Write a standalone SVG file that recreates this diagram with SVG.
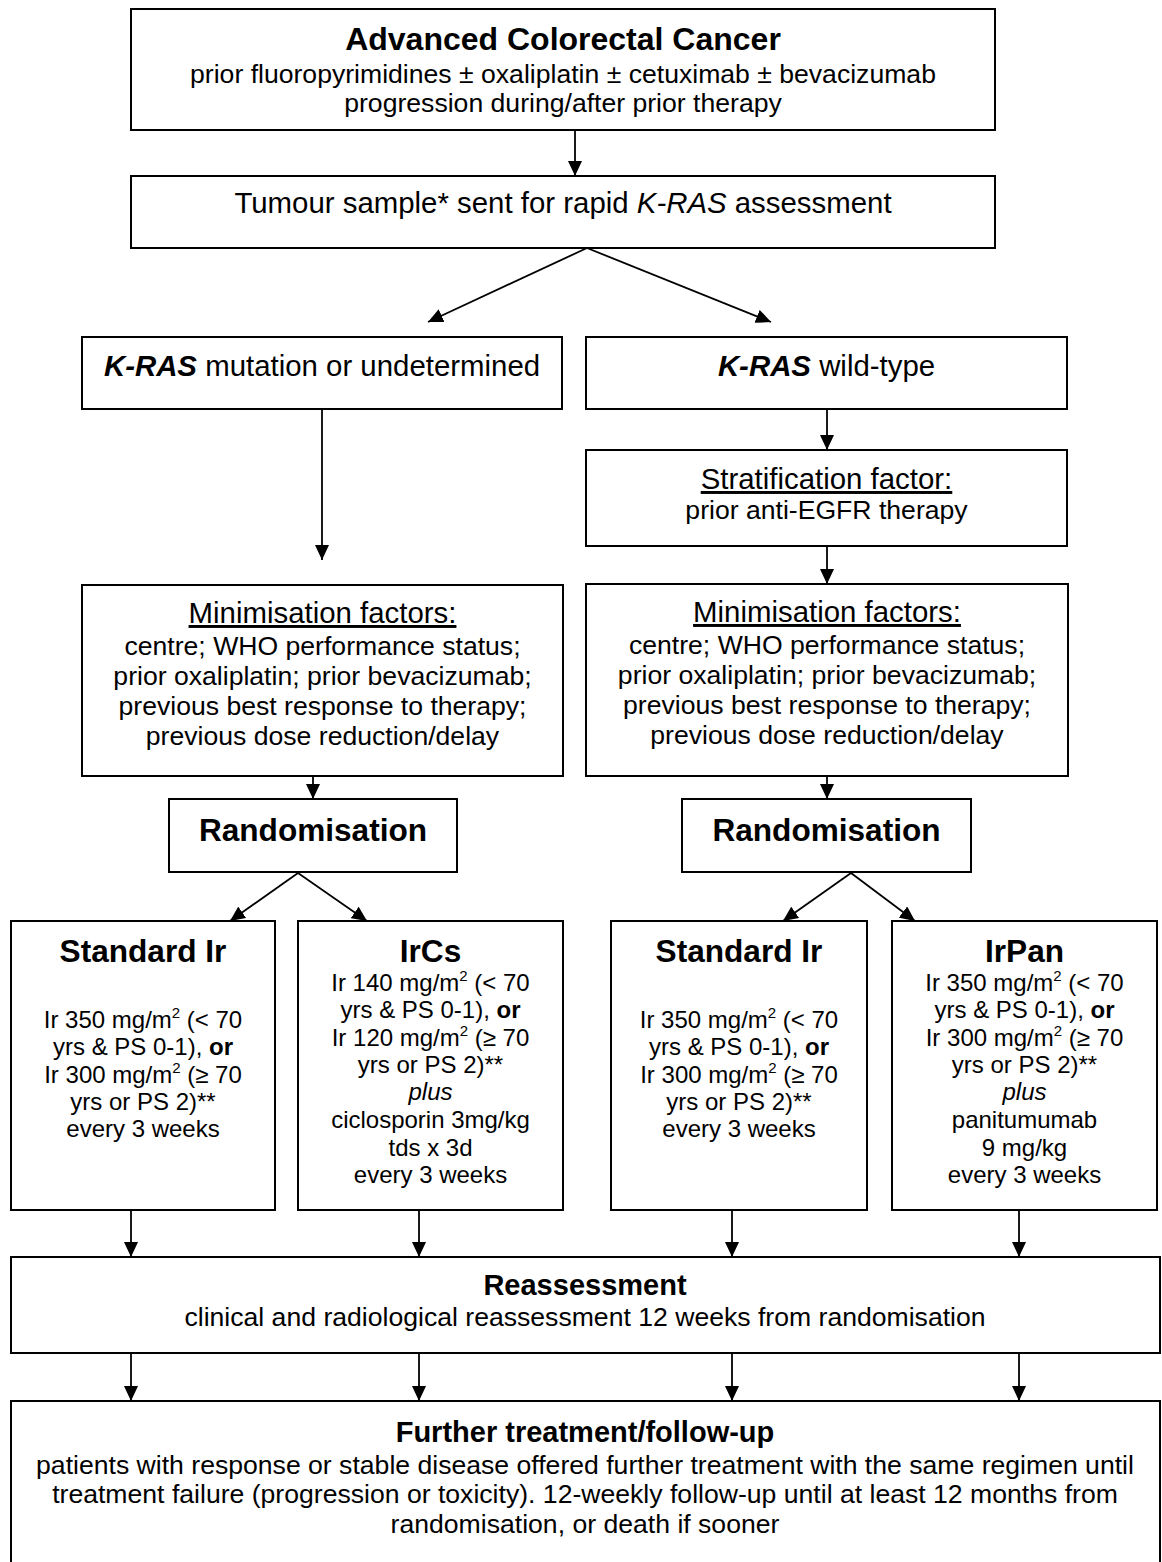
<svg xmlns="http://www.w3.org/2000/svg" width="1162" height="1562" viewBox="0 0 1162 1562">
<defs>
<style>
.box{fill:#fff;stroke:#000;stroke-width:2}
.t{font-family:"Liberation Sans",Arial,sans-serif;font-size:26.6px;text-anchor:middle;fill:#000}
.m{font-size:29.4px}
.h{font-weight:bold;font-size:31.6px}
.h2{font-weight:bold;font-size:29px}
.s{font-size:24px}
.c{stroke:#000;stroke-width:1.8;fill:none;marker-end:url(#ah)}
</style>
<marker id="ah" markerUnits="userSpaceOnUse" markerWidth="15" markerHeight="14" refX="15" refY="7" orient="auto">
<path d="M0,0 L15,7 L0,14 z" fill="#000"/>
</marker>
</defs>
<rect width="1162" height="1562" fill="#fff"/>

<g id="connectors">
<line class="c" x1="575" y1="130" x2="575" y2="176"/>
<line class="c" x1="587" y1="248" x2="428" y2="322"/>
<line class="c" x1="587" y1="248" x2="771" y2="322"/>
<line class="c" x1="322" y1="409" x2="322" y2="560"/>
<line class="c" x1="827" y1="409" x2="827" y2="450"/>
<line class="c" x1="827" y1="546" x2="827" y2="584"/>
<line class="c" x1="313" y1="776" x2="313" y2="799"/>
<line class="c" x1="827" y1="776" x2="827" y2="799"/>
<line class="c" x1="298" y1="873" x2="230" y2="921"/>
<line class="c" x1="298" y1="873" x2="367" y2="921"/>
<line class="c" x1="851" y1="873" x2="783" y2="921"/>
<line class="c" x1="851" y1="873" x2="915" y2="921"/>
<line class="c" x1="131" y1="1210" x2="131" y2="1257"/>
<line class="c" x1="419" y1="1210" x2="419" y2="1257"/>
<line class="c" x1="732" y1="1210" x2="732" y2="1257"/>
<line class="c" x1="1019" y1="1210" x2="1019" y2="1257"/>
<line class="c" x1="131" y1="1353" x2="131" y2="1401"/>
<line class="c" x1="419" y1="1353" x2="419" y2="1401"/>
<line class="c" x1="732" y1="1353" x2="732" y2="1401"/>
<line class="c" x1="1019" y1="1353" x2="1019" y2="1401"/>
</g>

<g id="n-advanced">
<rect class="box" x="131" y="9" width="864" height="121"/>
<text class="t h" x="563" y="50" style="font-size:32px">Advanced Colorectal Cancer</text>
<text class="t" x="563" y="83">prior fluoropyrimidines ± oxaliplatin ± cetuximab ± bevacizumab</text>
<text class="t" x="563" y="112">progression during/after prior therapy</text>
</g>

<g id="n-tumour">
<rect class="box" x="131" y="176" width="864" height="72"/>
<text class="t m" x="563" y="213">Tumour sample* sent for rapid <tspan font-style="italic">K-RAS</tspan> assessment</text>
</g>

<g id="n-kras-mut">
<rect class="box" x="82" y="337" width="480" height="72"/>
<text class="t m" x="322" y="376"><tspan font-weight="bold" font-style="italic">K-RAS</tspan> mutation or undetermined</text>
</g>

<g id="n-kras-wt">
<rect class="box" x="586" y="337" width="481" height="72"/>
<text class="t m" x="826.5" y="376"><tspan font-weight="bold" font-style="italic">K-RAS</tspan> wild-type</text>
</g>

<g id="n-strat">
<rect class="box" x="586" y="450" width="481" height="96"/>
<text class="t m" x="826.5" y="489" text-decoration="underline">Stratification factor:</text>
<text class="t" x="826.5" y="519">prior anti-EGFR therapy</text>
</g>

<g id="n-minim-left">
<rect class="box" x="82" y="585" width="481" height="191"/>
<text class="t m" x="322.5" y="623" text-decoration="underline">Minimisation factors:</text>
<text class="t" x="322.5" y="655">centre; WHO performance status;</text>
<text class="t" x="322.5" y="685">prior oxaliplatin; prior bevacizumab;</text>
<text class="t" x="322.5" y="715">previous best response to therapy;</text>
<text class="t" x="322.5" y="745">previous dose reduction/delay</text>
</g>

<g id="n-minim-right">
<rect class="box" x="586" y="584" width="482" height="192"/>
<text class="t m" x="827" y="622" text-decoration="underline">Minimisation factors:</text>
<text class="t" x="827" y="654">centre; WHO performance status;</text>
<text class="t" x="827" y="684">prior oxaliplatin; prior bevacizumab;</text>
<text class="t" x="827" y="714">previous best response to therapy;</text>
<text class="t" x="827" y="744">previous dose reduction/delay</text>
</g>

<g id="n-random-left">
<rect class="box" x="169" y="799" width="288" height="73"/>
<text class="t h" x="313" y="841">Randomisation</text>
</g>

<g id="n-random-right">
<rect class="box" x="682" y="799" width="289" height="73"/>
<text class="t h" x="826.5" y="841">Randomisation</text>
</g>

<g id="n-std-ir-1">
<rect class="box" x="11" y="921" width="264" height="289"/>
<text class="t h" x="143" y="962">Standard Ir</text>
<text class="t s" x="143" y="1028">Ir 350 mg/m<tspan font-size="15" dy="-10">2</tspan><tspan dy="10"> (&lt; 70</tspan></text>
<text class="t s" x="143" y="1055">yrs &amp; PS 0-1), <tspan font-weight="bold">or</tspan></text>
<text class="t s" x="143" y="1083">Ir 300 mg/m<tspan font-size="15" dy="-10">2</tspan><tspan dy="10"> (≥ 70</tspan></text>
<text class="t s" x="143" y="1110">yrs or PS 2)**</text>
<text class="t s" x="143" y="1137">every 3 weeks</text>
</g>

<g id="n-ircs">
<rect class="box" x="298" y="921" width="265" height="289"/>
<text class="t h" x="430.5" y="962">IrCs</text>
<text class="t s" x="430.5" y="991">Ir 140 mg/m<tspan font-size="15" dy="-10">2</tspan><tspan dy="10"> (&lt; 70</tspan></text>
<text class="t s" x="430.5" y="1018">yrs &amp; PS 0-1), <tspan font-weight="bold">or</tspan></text>
<text class="t s" x="430.5" y="1046">Ir 120 mg/m<tspan font-size="15" dy="-10">2</tspan><tspan dy="10"> (≥ 70</tspan></text>
<text class="t s" x="430.5" y="1073">yrs or PS 2)**</text>
<text class="t s" x="430.5" y="1100" font-style="italic">plus</text>
<text class="t s" x="430.5" y="1128">ciclosporin 3mg/kg</text>
<text class="t s" x="430.5" y="1156">tds x 3d</text>
<text class="t s" x="430.5" y="1183">every 3 weeks</text>
</g>

<g id="n-std-ir-2">
<rect class="box" x="611" y="921" width="256" height="289"/>
<text class="t h" x="739" y="962">Standard Ir</text>
<text class="t s" x="739" y="1028">Ir 350 mg/m<tspan font-size="15" dy="-10">2</tspan><tspan dy="10"> (&lt; 70</tspan></text>
<text class="t s" x="739" y="1055">yrs &amp; PS 0-1), <tspan font-weight="bold">or</tspan></text>
<text class="t s" x="739" y="1083">Ir 300 mg/m<tspan font-size="15" dy="-10">2</tspan><tspan dy="10"> (≥ 70</tspan></text>
<text class="t s" x="739" y="1110">yrs or PS 2)**</text>
<text class="t s" x="739" y="1137">every 3 weeks</text>
</g>

<g id="n-irpan">
<rect class="box" x="892" y="921" width="265" height="289"/>
<text class="t h" x="1024.5" y="962">IrPan</text>
<text class="t s" x="1024.5" y="991">Ir 350 mg/m<tspan font-size="15" dy="-10">2</tspan><tspan dy="10"> (&lt; 70</tspan></text>
<text class="t s" x="1024.5" y="1018">yrs &amp; PS 0-1), <tspan font-weight="bold">or</tspan></text>
<text class="t s" x="1024.5" y="1046">Ir 300 mg/m<tspan font-size="15" dy="-10">2</tspan><tspan dy="10"> (≥ 70</tspan></text>
<text class="t s" x="1024.5" y="1073">yrs or PS 2)**</text>
<text class="t s" x="1024.5" y="1100" font-style="italic">plus</text>
<text class="t s" x="1024.5" y="1128">panitumumab</text>
<text class="t s" x="1024.5" y="1156">9 mg/kg</text>
<text class="t s" x="1024.5" y="1183">every 3 weeks</text>
</g>

<g id="n-reassess">
<rect class="box" x="11" y="1257" width="1149" height="96"/>
<text class="t h2" x="585" y="1295">Reassessment</text>
<text class="t" x="585" y="1326">clinical and radiological reassessment 12 weeks from randomisation</text>
</g>

<g id="n-further">
<rect class="box" x="11" y="1401" width="1149" height="170"/>
<text class="t h2" x="585" y="1442">Further treatment/follow-up</text>
<text class="t" x="585" y="1474">patients with response or stable disease offered further treatment with the same regimen until</text>
<text class="t" x="585" y="1503">treatment failure (progression or toxicity). 12-weekly follow-up until at least 12 months from</text>
<text class="t" x="585" y="1533">randomisation, or death if sooner</text>
</g>
</svg>
